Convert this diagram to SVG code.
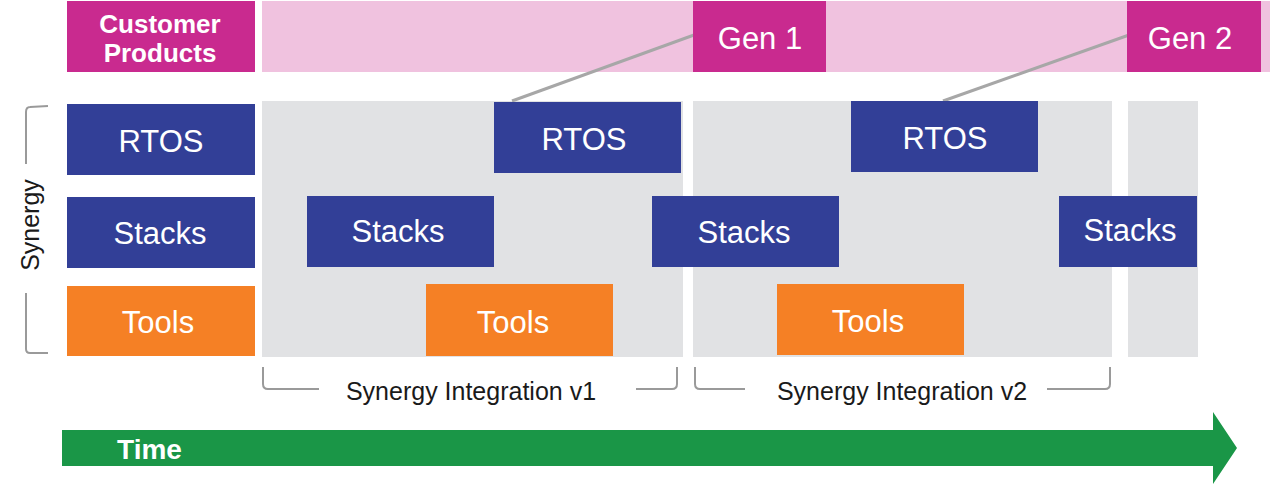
<svg xmlns="http://www.w3.org/2000/svg" width="1280" height="485" viewBox="0 0 1280 485">
<style>
.blue{fill:#323F97}
.orange{fill:#F58025}
.mag{fill:#C92A8F}
.panel{fill:#E1E2E4}
.lbl{font-family:"Liberation Sans",Arial,sans-serif;font-size:31px;fill:#fff;text-anchor:middle}
.bold{font-family:"Liberation Sans",Arial,sans-serif;font-weight:bold;fill:#fff;text-anchor:middle}
.cap{font-family:"Liberation Sans",Arial,sans-serif;font-size:25px;fill:#1a1a1a;text-anchor:middle}
.br{fill:none;stroke:#9a9a9a;stroke-width:2}
.conn{stroke:#A7A7A7;stroke-width:3;fill:none}
</style>
<rect x="262" y="1" width="1008" height="71" fill="#F0C2DF"/>
<g id="panels">
<rect class="panel" x="262" y="101" width="421" height="256"/>
<rect class="panel" x="693" y="101" width="419" height="256"/>
<rect class="panel" x="1128" y="101" width="70" height="256"/>
</g>
<g id="connectors">
<line class="conn" x1="694" y1="35" x2="512" y2="101"/>
<line class="conn" x1="1129" y1="35" x2="943" y2="101"/>
</g>
<g id="customer-products"><rect class="mag" x="67" y="1" width="188" height="71"/><text class="bold" font-size="26" x="160" y="33">Customer</text><text class="bold" font-size="26" x="160" y="62">Products</text></g>
<g id="gen1"><rect class="mag" x="693" y="1" width="133" height="71"/><text class="lbl" x="760" y="49">Gen 1</text></g>
<g id="gen2"><rect class="mag" x="1127" y="1" width="134" height="71"/><text class="lbl" x="1190" y="49">Gen 2</text></g>
<g id="rtos0"><rect class="blue" x="67" y="104" width="188" height="71"/><text class="lbl" x="161" y="152">RTOS</text></g>
<g id="stacks0"><rect class="blue" x="67" y="197" width="188" height="71"/><text class="lbl" x="160" y="244">Stacks</text></g>
<g id="tools0"><rect class="orange" x="67" y="286" width="188" height="70"/><text class="lbl" x="158" y="333">Tools</text></g>
<g id="rtos1"><rect class="blue" x="494" y="102" width="187" height="71"/><text class="lbl" x="584" y="150">RTOS</text></g>
<g id="stacks1"><rect class="blue" x="307" y="196" width="187" height="71"/><text class="lbl" x="398" y="242">Stacks</text></g>
<g id="tools1"><rect class="orange" x="426" y="284" width="187" height="72"/><text class="lbl" x="513" y="333">Tools</text></g>
<g id="stacks2"><rect class="blue" x="652" y="196" width="187" height="71"/><text class="lbl" x="744" y="243">Stacks</text></g>
<g id="rtos2"><rect class="blue" x="851" y="101" width="187" height="71"/><text class="lbl" x="945" y="149">RTOS</text></g>
<g id="tools2"><rect class="orange" x="777" y="284" width="187" height="71"/><text class="lbl" x="868" y="332">Tools</text></g>
<g id="stacks3"><rect class="blue" x="1059" y="196" width="138" height="71"/><text class="lbl" x="1130" y="241">Stacks</text></g>
<g id="synergy-bracket">
<path class="br" d="M48,106 L30,107 Q26,107 26,112 L26,164"/>
<path class="br" d="M26,293 L26,349 Q26,353 30,353 L48,353"/>
<text class="cap" transform="translate(39,225) rotate(-90)">Synergy</text>
</g>
<g id="integration-v1">
<path class="br" d="M263,367 L263,384 Q263,389 268,389 L319,389"/>
<path class="br" d="M636,389 L672,389 Q677,389 677,384 L677,367"/>
<text class="cap" x="471" y="400">Synergy Integration v1</text>
</g>
<g id="integration-v2">
<path class="br" d="M695,367 L695,384 Q695,389 700,389 L745,389"/>
<path class="br" d="M1047,389 L1105,389 Q1110,389 1110,384 L1110,367"/>
<text class="cap" x="902" y="400">Synergy Integration v2</text>
</g>
<g id="time-arrow">
<polygon fill="#1A9647" points="62,430 1213,430 1213,412 1237,448 1213,484 1213,466 62,466"/>
<text class="bold" font-size="28" x="149.5" y="459">Time</text>
</g>
</svg>
